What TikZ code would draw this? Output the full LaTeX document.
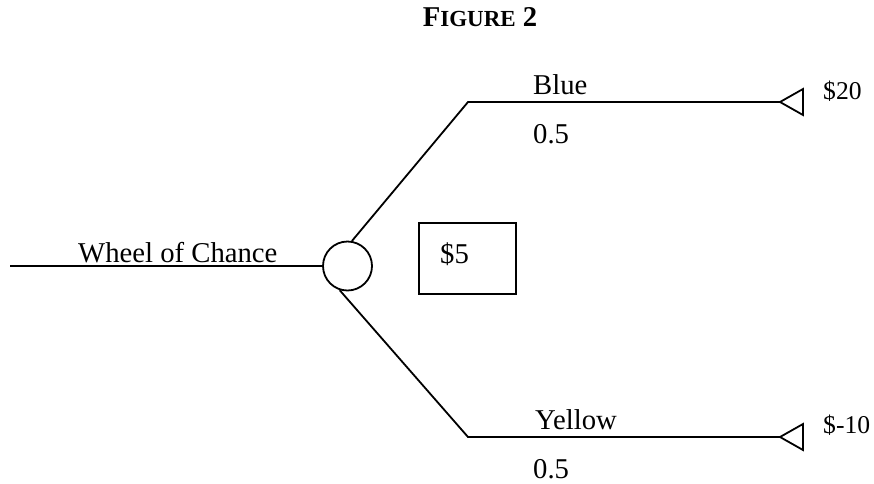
\documentclass[tikz,border=0pt]{standalone}
\usepackage{fontspec}
\setmainfont{Liberation Serif}
\tikzset{
  lbl/.style={inner sep=0pt, anchor=base west, font=\fontsize{28.7}{34}\selectfont},
  vlbl/.style={inner sep=0pt, anchor=base west, font=\fontsize{25.6}{30}\selectfont},
  ln/.style={line width=1.8pt, line join=miter},
}
\begin{document}
\begin{tikzpicture}[x=1pt,y=-1pt]
\useasboundingbox (0,0) rectangle (874,483);
% title
\node[inner sep=0pt, anchor=base] (title) at (480,26)
  {\fontsize{28.7}{34}\selectfont\bfseries F{\fontsize{23}{28}\selectfont IGURE} 2};
% chance node
\node[draw, circle, ln, minimum size=49pt, inner sep=0pt] (c) at (347.5,266) {};
\node[coordinate] (start) at (10,266) {};
\draw[ln] (start) -- (c.west);
\node[lbl] (wheel) at (78,262) {Wheel of Chance};
% value box
\node[draw, ln, minimum width=97pt, minimum height=71pt, inner sep=0pt] (box) at (467.5,258.5) {};
\node[lbl] (val) at (440,263) {\$5};
% branch corners and terminal tips
\node[coordinate] (k1) at (468,102) {};
\node[coordinate] (k2) at (468,437) {};
\node[coordinate] (t1) at (780,102) {};
\node[coordinate] (t2) at (780,437) {};
\draw[ln] (c.80) -- (k1) -- (t1);
\draw[ln] (c.-108) -- (k2) -- (t2);
% terminal triangles
\draw[ln] (t1) -- ++(23,-13) -- ++(0,26) -- cycle;
\draw[ln] (t2) -- ++(23,-13) -- ++(0,26) -- cycle;
% labels
\node[lbl] (blue) at (533,94) {Blue};
\node[lbl] (p1) at (533,143) {0.5};
\node[lbl] (yellow) at (535,429) {Yellow};
\node[lbl] (p2) at (533,478) {0.5};
\node[vlbl] (v1) at (823,99) {\$20};
\node[vlbl] (v2) at (823,433) {\$-10};
\end{tikzpicture}
\end{document}
